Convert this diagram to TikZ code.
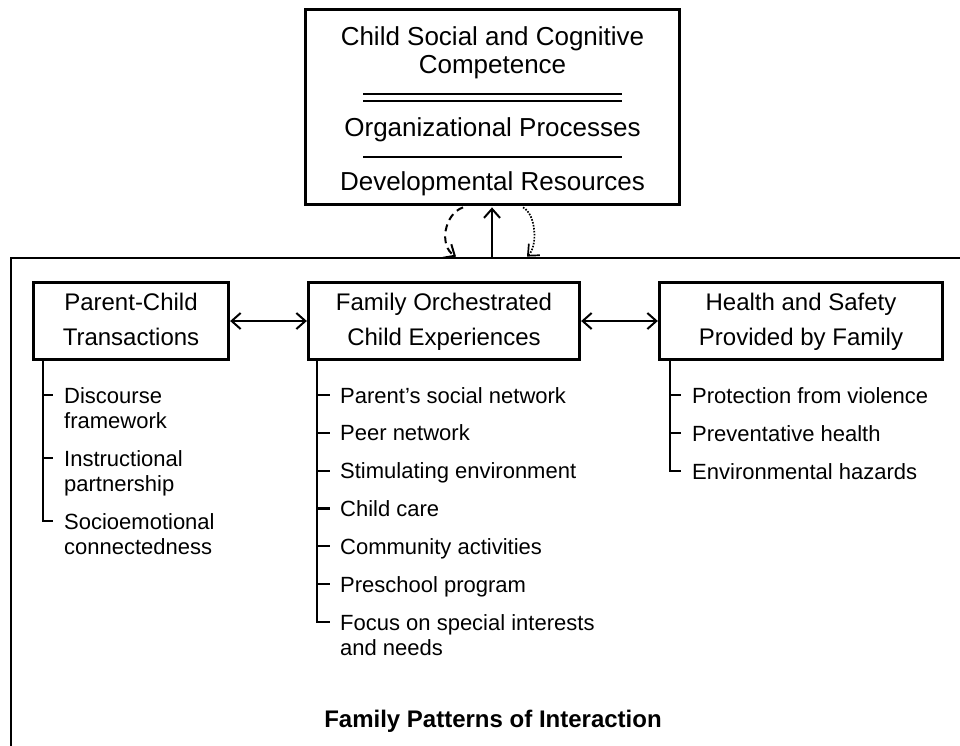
\documentclass[tikz,border=0pt]{standalone}
\usepackage{fontspec}
\setmainfont{Liberation Sans}
\usetikzlibrary{arrows.meta}
\tikzset{
  bigbox/.style={draw, line width=2.8pt, inner sep=0pt},
  titlebox/.style={draw, line width=2.8pt, inner sep=0pt, minimum height=77.5,
    font=\fontsize{24}{35}\selectfont},
  toptext/.style={anchor=base, inner sep=0pt, font=\fontsize{26}{28}\selectfont},
  itemtext/.style={anchor=base west, inner sep=0pt, font=\fontsize{22}{25}\selectfont},
  frameline/.style={line width=2.8pt},
  rule/.style={line width=1.6pt},
  treeline/.style={line width=2.2pt},
  barb/.tip={Straight Barb[length=9pt,width=16pt]},
  conn/.style={line width=2pt},
}
\newcommand{\lines}[1]{\begin{tabular}[t]{@{}l@{}}#1\end{tabular}}
\newcommand{\clines}[1]{\begin{tabular}[t]{@{}c@{}}#1\end{tabular}}
\begin{document}
\begin{tikzpicture}[x=1pt,y=-1pt]
\useasboundingbox (0,0) rectangle (960,745);

% top box
\node[bigbox, minimum width=374.2, minimum height=195.2] (top) at (492.5,107) {};
\node[toptext] (t1) at (492.5,45) {\clines{Child Social and Cognitive\\Competence}};
\node[toptext] (t2) at (492.5,136) {Organizational Processes};
\node[toptext] (t3) at (492.5,190) {Developmental Resources};
\coordinate (r1a) at (363,94);  \coordinate (r1b) at (622,94);
\coordinate (r2a) at (363,101); \coordinate (r2b) at (622,101);
\coordinate (r3a) at (363,157); \coordinate (r3b) at (622,157);
\draw[rule] (r1a) -- (r1b);
\draw[rule] (r2a) -- (r2b);
\draw[rule] (r3a) -- (r3b);

% frame
\coordinate (frTR) at (962,258);
\coordinate (frTL) at (11,258);
\coordinate (frBL) at (11,747);
\draw[frameline] (frTR) -- (frTL) -- (frBL);

% arrows between top box and frame
\coordinate (sA) at (492,257);
\coordinate (sB) at (492,207.4);
\draw[conn, -{barb}] (sA) -- (sB);
\coordinate (dA) at (463,207.4);
\coordinate (dB) at (456,256.6);
\draw[conn, dash pattern=on 7pt off 5pt, -{barb}] (dA) .. controls (444,214) and (439,246) .. (dB);
\coordinate (oA) at (523,207.4);
\coordinate (oB) at (527,256.6);
\draw[conn, line width=1.7pt, dash pattern=on 1.6pt off 1.4pt, -{barb}] (oA) .. controls (536,214) and (538,246) .. (oB);

% sub boxes
\node[titlebox, minimum width=195.5] (pc) at (131,321) {\clines{Parent-Child\\Transactions}};
\node[titlebox, minimum width=271.5] (fo) at (444,321) {\clines{Family Orchestrated\\Child Experiences}};
\node[titlebox, minimum width=283.5] (hs) at (801,321) {\clines{Health and Safety\\Provided by Family}};
\draw[conn, {barb}-{barb}] (pc) -- (fo);
\draw[conn, {barb}-{barb}] (fo) -- (hs);

% Parent-Child list
\coordinate (pcT) at (43,360);
\coordinate (pcE) at (43,521);
\coordinate (pcEr) at (53,521);
\draw[treeline] (pcT) -- (pcE) -- (pcEr);
\foreach \y in {395,458} \draw[treeline] (43,\y) -- (53,\y);
\node[itemtext] (pc1) at (64,403) {\lines{Discourse\\framework}};
\node[itemtext] (pc2) at (64,466) {\lines{Instructional\\partnership}};
\node[itemtext] (pc3) at (64,529) {\lines{Socioemotional\\connectedness}};

% Family Orchestrated list
\coordinate (foT) at (317,359);
\coordinate (foE) at (317,622);
\coordinate (foEr) at (330,622);
\draw[treeline] (foT) -- (foE) -- (foEr);
\foreach \y in {395,432.8,470.6,508.4,546.2,584} \draw[treeline] (317,\y) -- (330,\y);
\node[itemtext] (fo1) at (340,403) {Parent’s social network};
\node[itemtext] (fo2) at (340,440.8) {Peer network};
\node[itemtext] (fo3) at (340,478.6) {Stimulating environment};
\node[itemtext] (fo4) at (340,516.4) {Child care};
\node[itemtext] (fo5) at (340,554.2) {Community activities};
\node[itemtext] (fo6) at (340,592) {Preschool program};
\node[itemtext] (fo7) at (340,630) {\lines{Focus on special interests\\and needs}};

% Health and Safety list
\coordinate (hsT) at (670,360);
\coordinate (hsE) at (670,471);
\coordinate (hsEr) at (681,471);
\draw[treeline] (hsT) -- (hsE) -- (hsEr);
\foreach \y in {395,433} \draw[treeline] (670,\y) -- (681,\y);
\node[itemtext] (hs1) at (692,403) {Protection from violence};
\node[itemtext] (hs2) at (692,441) {Preventative health};
\node[itemtext] (hs3) at (692,479) {Environmental hazards};

% bottom label
\node[anchor=base, inner sep=0pt, font=\fontsize{24}{28}\selectfont\bfseries] (fp) at (493,727) {Family Patterns of Interaction};
\end{tikzpicture}
\end{document}
